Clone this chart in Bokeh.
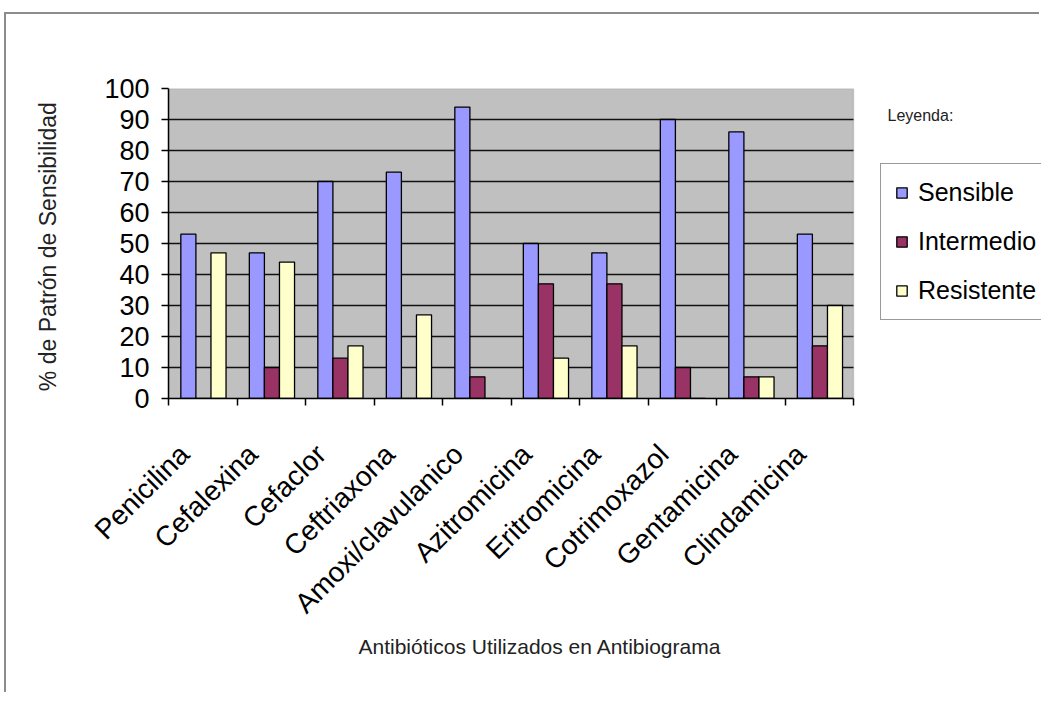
import numpy as np
from bokeh.plotting import figure
from bokeh.models import (ColumnDataSource, Range1d, FixedTicker, Legend, LegendItem, Label,
                          BoxAnnotation, Title)
from bokeh.embed import file_html
from bokeh.resources import INLINE

# ---- data ----
antibioticos = ["Penicilina", "Cefalexina", "Cefaclor", "Ceftriaxona", "Amoxi/clavulanico",
                "Azitromicina", "Eritromicina", "Cotrimoxazol", "Gentamicina", "Clindamicina"]
sensible = [53, 47, 70, 73, 94, 50, 47, 90, 86, 53]
intermedio = [0, 10, 13, 0, 7, 37, 37, 10, 7, 17]
resistente = [47, 44, 17, 27, 0, 13, 17, 0, 7, 30]
series_names = ["Sensible", "Intermedio", "Resistente"]
series_colors = ["#9999FF", "#993366", "#FFFFCC"]
y_ticks = [0, 10, 20, 30, 40, 50, 60, 70, 80, 90, 100]

FONT = "Liberation Sans"
n = len(antibioticos)
centers = (np.arange(n) + 0.5).tolist()
bounds = np.arange(n + 1).tolist()
label_pos = [c - 0.27 for c in centers]   # rotated labels sit slightly left of their category

# frame extends to the right edge so the legend (outside the plot area) is not clipped
px_per_cat = 68.5
frame_w = 873
x_end = frame_w / px_per_cat

p = figure(width=1035, height=680, x_range=Range1d(0, x_end), y_range=Range1d(0, 100),
           output_backend="svg", toolbar_location=None,
           min_border_left=162, min_border_right=0, min_border_top=74, min_border_bottom=296)
p.styles = {"margin-left": "4px", "margin-top": "12px",
            "border-left": "2px solid #8c8c8c", "border-top": "2px solid #8c8c8c"}
p.background_fill_color = "white"
p.border_fill_color = "white"
p.outline_line_color = None
p.xgrid.grid_line_color = None
p.ygrid.grid_line_color = None

# plot area (gray) limited to the categories
p.add_layout(BoxAnnotation(left=0, right=n, bottom=0, top=100, fill_color="#C0C0C0", fill_alpha=1.0,
                           line_color="#808080", line_width=1.5, level="image"))

# horizontal grid lines inside the plot area
grid_y = y_ticks[1:-1]
p.segment(x0=[0] * len(grid_y), x1=[n] * len(grid_y), y0=grid_y, y1=grid_y,
          line_color="#111111", line_width=1.7)

bw = 0.22
offsets = [-bw, 0.0, bw]
renderers = []
for name, vals, col, off in zip(series_names, [sensible, intermedio, resistente], series_colors, offsets):
    src = ColumnDataSource(dict(x=[c + off + 0.01 for c in centers], top=vals))
    r = p.vbar(x="x", top="top", width=bw, bottom=0, source=src, fill_color=col,
               line_color="black", line_width=1.3)
    renderers.append(r)

# y axis
ya = p.yaxis[0]
ya.ticker = FixedTicker(ticks=y_ticks)
ya.axis_line_color = "black"
ya.axis_line_width = 1.5
ya.major_tick_in = 0
ya.major_tick_out = 7
ya.major_tick_line_width = 1.5
ya.minor_tick_line_color = None
ya.major_label_text_font = FONT
ya.major_label_text_font_size = "27px"
ya.major_label_text_color = "black"
ya.major_label_standoff = 12
ya.axis_label = "%  de Patrón de Sensibilidad"
ya.axis_label_text_font = FONT
ya.axis_label_text_font_size = "23px"
ya.axis_label_text_font_style = "normal"
ya.axis_label_text_color = "#222222"
ya.axis_label_standoff = 40

# x axis
xa = p.xaxis[0]
xa.bounds = (0, n)
xa.ticker = FixedTicker(ticks=label_pos, minor_ticks=bounds)
xa.major_label_overrides = {c: name for c, name in zip(label_pos, antibioticos)}
xa.major_tick_line_color = None
xa.minor_tick_in = 0
xa.minor_tick_out = 7
xa.minor_tick_line_width = 1.5
xa.minor_tick_line_color = "black"
xa.axis_line_color = "black"
xa.axis_line_width = 1.5
xa.major_label_orientation = np.pi / 4
xa.major_label_text_font = FONT
xa.major_label_text_font_size = "28px"
xa.major_label_text_color = "black"
xa.major_label_standoff = 44
xa.axis_label = None

p.add_layout(Title(text="Antibióticos Utilizados en Antibiograma", align="left", offset=190,
                   text_font=FONT, text_font_size="21px", text_font_style="normal",
                   text_color="#222222", standoff=0), "below")

# legend
legend = Legend(items=[LegendItem(label=nm, renderers=[r]) for nm, r in zip(series_names, renderers)],
                location=(712, 78), orientation="vertical")
legend.label_text_font = FONT
legend.label_text_font_size = "25px"
legend.label_text_color = "black"
legend.glyph_width = 13
legend.glyph_height = 13
legend.label_standoff = 10
legend.padding = 14
legend.spacing = 20
legend.margin = 0
legend.border_line_color = "#333333"
legend.border_line_width = 1.5
legend.background_fill_color = "white"
legend.background_fill_alpha = 1.0
p.add_layout(legend)

p.add_layout(Label(x=719, y=283, x_units="screen", y_units="screen", text="Leyenda:",
                   text_font=FONT, text_font_size="16px", text_color="#222222",
                   text_baseline="middle"))

open("out.html", "w").write(file_html(p, INLINE))
